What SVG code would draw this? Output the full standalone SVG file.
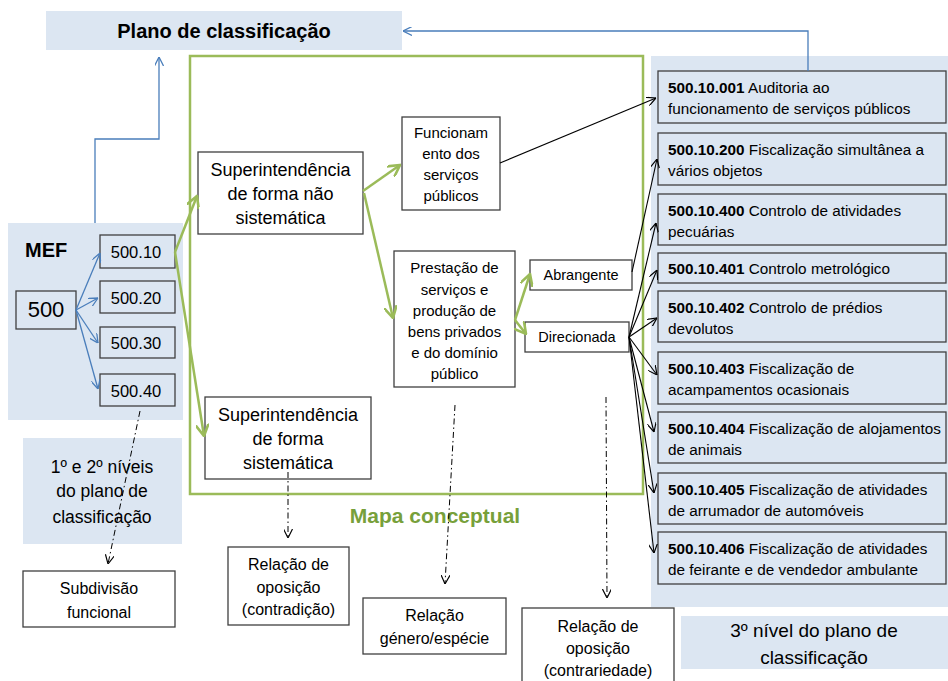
<svg xmlns="http://www.w3.org/2000/svg" width="948" height="681" viewBox="0 0 948 681">
<style>
text{font-family:"Liberation Sans",Arial,sans-serif;fill:#000;}
.bg{fill:#dce6f2;}
.box{fill:#fff;stroke:#3f3f3f;stroke-width:1.3;}
.bbox{fill:#dce6f2;stroke:#3f3f3f;stroke-width:1.3;}
.c{text-anchor:middle;}
.blue{fill:none;stroke:#4a7ebb;stroke-width:1.3;}
.green{fill:none;stroke:#9bbb59;stroke-width:2.5;}
.blk{fill:none;stroke:#000;stroke-width:1.1;}
.dd{fill:none;stroke:#000;stroke-width:1;stroke-dasharray:6 3 1.5 3;}
.r{font-size:15.3px;}
.r tspan.b{font-weight:bold;}
</style>
<defs>
<marker id="ab" viewBox="0 0 10 10" refX="10" refY="5" markerWidth="9" markerHeight="9" markerUnits="userSpaceOnUse" orient="auto"><path d="M0,0 L10,5 L0,10" fill="none" stroke="#4a7ebb" stroke-width="1.4"/></marker>
<marker id="ag" viewBox="0 0 10 10" refX="9" refY="5" markerWidth="13" markerHeight="13" markerUnits="userSpaceOnUse" orient="auto"><path d="M0,0 L9,5 L0,10" fill="none" stroke="#9bbb59" stroke-width="2"/></marker>
<marker id="ak" viewBox="0 0 10 10" refX="10" refY="5" markerWidth="9" markerHeight="9" markerUnits="userSpaceOnUse" orient="auto"><path d="M0,0 L10,5 L0,10" fill="none" stroke="#000" stroke-width="1.3"/></marker>
</defs>

<!-- backgrounds -->
<rect class="bg" x="8" y="223" width="175" height="197"/>
<rect class="bg" x="651" y="56" width="297" height="551"/>
<rect x="190" y="56" width="453" height="438" class="green"/>

<g id="plano">
<rect class="bg" x="46" y="11" width="356" height="39"/>
<text class="c" x="224" y="38" font-size="20" font-weight="bold">Plano de classificação</text>
</g>

<g id="mef">
<text x="25" y="257" font-size="20" font-weight="bold">MEF</text>
</g>
<g id="n500"><rect class="bbox" x="16" y="291" width="60" height="38"/><text class="c" x="46" y="317" font-size="22">500</text></g>
<g id="n50010"><rect class="bbox" x="100" y="235" width="75" height="33"/><text class="c" x="136" y="258" font-size="16.5">500.10</text></g>
<g id="n50020"><rect class="bbox" x="100" y="281" width="75" height="32"/><text class="c" x="136" y="304" font-size="16.5">500.20</text></g>
<g id="n50030"><rect class="bbox" x="100" y="327" width="75" height="31"/><text class="c" x="136" y="349" font-size="16.5">500.30</text></g>
<g id="n50040"><rect class="bbox" x="100" y="374" width="75" height="32"/><text class="c" x="136" y="397" font-size="16.5">500.40</text></g>

<g id="niveis12">
<rect class="bg" x="23" y="438" width="159" height="106"/>
<text class="c" x="102" font-size="17.5"><tspan x="102" y="473">1º e 2º níveis</tspan><tspan x="102" y="497">do plano de</tspan><tspan x="102" y="523">classificação</tspan></text>
</g>
<g id="subdivisao">
<rect class="box" x="23" y="571" width="152" height="56"/>
<text class="c" font-size="16"><tspan x="99" y="594">Subdivisão</tspan><tspan x="99" y="618">funcional</tspan></text>
</g>

<g id="supnao">
<rect class="box" x="198" y="152" width="165" height="82"/>
<text class="c" font-size="18"><tspan x="280.5" y="176">Superintendência</tspan><tspan x="280.5" y="200">de forma não</tspan><tspan x="280.5" y="224">sistemática</tspan></text>
</g>
<g id="supsis">
<rect class="box" x="205" y="397" width="166" height="82"/>
<text class="c" font-size="18"><tspan x="288" y="421">Superintendência</tspan><tspan x="288" y="445">de forma</tspan><tspan x="288" y="469">sistemática</tspan></text>
</g>
<g id="funcionamento">
<rect class="box" x="402" y="117" width="98" height="93"/>
<text class="c" font-size="15"><tspan x="451" y="138">Funcionam</tspan><tspan x="451" y="159">ento dos</tspan><tspan x="451" y="180">serviços</tspan><tspan x="451" y="201">públicos</tspan></text>
</g>
<g id="prestacao">
<rect class="box" x="394" y="251" width="121" height="136"/>
<text class="c" font-size="15"><tspan x="454.5" y="273">Prestação de</tspan><tspan x="454.5" y="295">serviços e</tspan><tspan x="454.5" y="316">produção de</tspan><tspan x="454.5" y="337">bens privados</tspan><tspan x="454.5" y="358">e do domínio</tspan><tspan x="454.5" y="379">público</tspan></text>
</g>
<g id="abrangente">
<rect class="box" x="530" y="260" width="102" height="30"/>
<text class="c" x="581" y="280" font-size="14.5">Abrangente</text>
</g>
<g id="direcionada">
<rect class="box" x="525" y="322" width="104" height="30"/>
<text class="c" x="577" y="342" font-size="14.5">Direcionada</text>
</g>

<g id="mapa"><text class="c" x="435" y="523" font-size="21" font-weight="bold" style="fill:#77a03a">Mapa conceptual</text></g>

<g id="contradicao">
<rect class="box" x="228" y="547" width="121" height="78"/>
<text class="c" font-size="16"><tspan x="288.5" y="570">Relação de</tspan><tspan x="288.5" y="593">oposição</tspan><tspan x="288.5" y="615">(contradição)</tspan></text>
</g>
<g id="genero">
<rect class="box" x="363" y="598" width="143" height="56"/>
<text class="c" font-size="16"><tspan x="434.5" y="621">Relação</tspan><tspan x="434.5" y="644">género/espécie</tspan></text>
</g>
<g id="contrariedade">
<rect class="box" x="522" y="608" width="152" height="80"/>
<text class="c" font-size="16"><tspan x="598" y="632">Relação de</tspan><tspan x="598" y="654">oposição</tspan><tspan x="598" y="676">(contrariedade)</tspan></text>
</g>

<g id="r001"><rect class="bbox" x="658" y="71" width="288" height="52"/><text class="r"><tspan x="668" y="92.5"><tspan class="b">500.10.001</tspan> Auditoria ao</tspan><tspan x="668" y="113.5">funcionamento de serviços públicos</tspan></text></g>
<g id="r200"><rect class="bbox" x="658" y="133" width="288" height="52"/><text class="r"><tspan x="668" y="154.5"><tspan class="b">500.10.200</tspan> Fiscalização simultânea a</tspan><tspan x="668" y="175.5">vários objetos</tspan></text></g>
<g id="r400"><rect class="bbox" x="658" y="194" width="288" height="51"/><text class="r"><tspan x="668" y="215.5"><tspan class="b">500.10.400</tspan> Controlo de atividades</tspan><tspan x="668" y="236.5">pecuárias</tspan></text></g>
<g id="r401"><rect class="bbox" x="658" y="253" width="288" height="30"/><text class="r"><tspan x="668" y="274"><tspan class="b">500.10.401</tspan> Controlo metrológico</tspan></text></g>
<g id="r402"><rect class="bbox" x="658" y="291" width="288" height="51"/><text class="r"><tspan x="668" y="312.5"><tspan class="b">500.10.402</tspan> Controlo de prédios</tspan><tspan x="668" y="333.5">devolutos</tspan></text></g>
<g id="r403"><rect class="bbox" x="658" y="352" width="288" height="52"/><text class="r"><tspan x="668" y="373.5"><tspan class="b">500.10.403</tspan> Fiscalização de</tspan><tspan x="668" y="394.5">acampamentos ocasionais</tspan></text></g>
<g id="r404"><rect class="bbox" x="658" y="412" width="288" height="51"/><text class="r"><tspan x="668" y="433.5"><tspan class="b">500.10.404</tspan> Fiscalização de alojamentos</tspan><tspan x="668" y="454.5">de animais</tspan></text></g>
<g id="r405"><rect class="bbox" x="658" y="473" width="288" height="51"/><text class="r"><tspan x="668" y="494.5"><tspan class="b">500.10.405</tspan> Fiscalização de atividades</tspan><tspan x="668" y="515.5">de arrumador de automóveis</tspan></text></g>
<g id="r406"><rect class="bbox" x="658" y="532" width="288" height="52"/><text class="r"><tspan x="668" y="553.5"><tspan class="b">500.10.406</tspan> Fiscalização de atividades</tspan><tspan x="668" y="574.5">de feirante e de vendedor ambulante</tspan></text></g>

<g id="nivel3">
<rect class="bg" x="681" y="616" width="267" height="53"/>
<text class="c" font-size="19"><tspan x="814" y="637">3º nível do plano de</tspan><tspan x="814" y="664">classificação</tspan></text>
</g>

<g id="connectors">
<polyline class="blue" points="95,223 95,139 159,139 159,57" marker-end="url(#ab)"/>
<polyline class="blue" points="808,71 808,31 403,31" marker-end="url(#ab)"/>
<line class="blue" x1="76" y1="310" x2="100" y2="253" marker-end="url(#ab)"/>
<line class="blue" x1="76" y1="310" x2="98" y2="298" marker-end="url(#ab)"/>
<line class="blue" x1="76" y1="310" x2="98" y2="343" marker-end="url(#ab)"/>
<line class="blue" x1="76" y1="310" x2="98" y2="389" marker-end="url(#ab)"/>

<line class="green" x1="175" y1="252" x2="197" y2="196" marker-end="url(#ag)"/>
<line class="green" x1="175" y1="252" x2="204" y2="436" marker-end="url(#ag)"/>
<line class="green" x1="363" y1="191" x2="400" y2="165" marker-end="url(#ag)"/>
<line class="green" x1="364" y1="193" x2="393" y2="318" marker-end="url(#ag)"/>
<line class="green" x1="515" y1="320" x2="530" y2="274" marker-end="url(#ag)"/>
<line class="green" x1="515" y1="320" x2="526" y2="334" marker-end="url(#ag)"/>

<line class="blk" x1="500" y1="163" x2="656" y2="98" marker-end="url(#ak)"/>
<line class="blk" x1="632" y1="272" x2="657" y2="159" marker-end="url(#ak)"/>
<line class="blk" x1="629" y1="337" x2="656" y2="223" marker-end="url(#ak)"/>
<line class="blk" x1="629" y1="337" x2="657" y2="270" marker-end="url(#ak)"/>
<line class="blk" x1="629" y1="337" x2="657" y2="318" marker-end="url(#ak)"/>
<line class="blk" x1="629" y1="337" x2="657" y2="375" marker-end="url(#ak)"/>
<line class="blk" x1="629" y1="337" x2="654" y2="432" marker-end="url(#ak)"/>
<line class="blk" x1="629" y1="337" x2="654" y2="493" marker-end="url(#ak)"/>
<line class="blk" x1="629" y1="337" x2="654" y2="553" marker-end="url(#ak)"/>

<line class="dd" x1="140" y1="411" x2="108" y2="564" marker-end="url(#ak)"/>
<line class="dd" x1="288" y1="472" x2="288" y2="538" marker-end="url(#ak)"/>
<line class="dd" x1="455" y1="405" x2="445" y2="584" marker-end="url(#ak)"/>
<line class="dd" x1="606" y1="397" x2="607" y2="598" marker-end="url(#ak)"/>
</g>
</svg>
